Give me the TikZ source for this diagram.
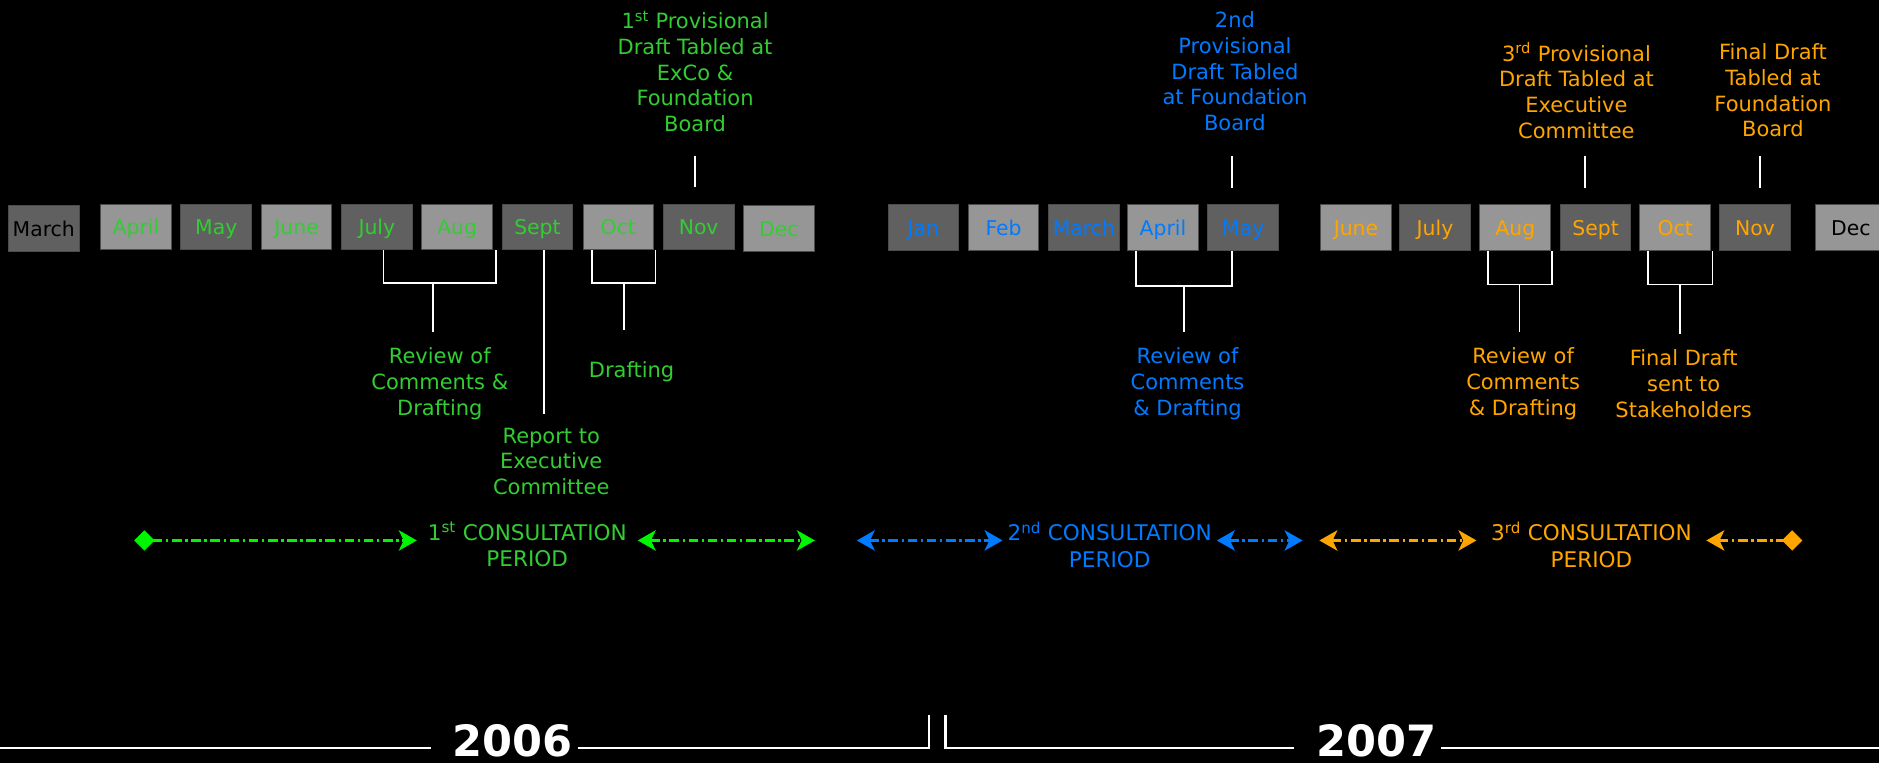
\documentclass[tikz,border=0pt]{standalone}
\usepackage{fontspec}
\setmainfont{DejaVu Sans}
\usetikzlibrary{calc,arrows.meta}
\definecolor{grn}{RGB}{50,205,50}
\definecolor{lim}{RGB}{0,245,0}
\definecolor{blu}{RGB}{0,122,255}
\definecolor{org}{RGB}{255,165,0}
\definecolor{lgray}{RGB}{150,150,150}
\definecolor{dgray}{RGB}{96,96,96}
\begin{document}
\begin{tikzpicture}[x=1pt,y=-1pt,
  mbox/.style={draw=black!70,line width=0.8pt,minimum width=59pt,minimum height=38pt,inner sep=0pt,text height=14.5pt,text depth=1.5pt,font=\fontsize{17}{20}\selectfont},
  lt/.style={mbox,fill=lgray},
  dk/.style={mbox,fill=dgray},
  lab/.style={align=center,inner sep=2pt,font=\fontsize{17.5}{21.5}\selectfont},
  wline/.style={white,line width=1.5pt},
  con/.style={#1,line width=2pt,dash pattern=on 8pt off 3pt on 2pt off 3pt},
  hd/.tip={Stealth[length=15pt,width=17pt,inset=4pt]},
  dm/.tip={Diamond[length=17pt,width=17pt]},
  year/.style={white,inner ysep=0pt,inner xsep=4pt,font=\fontsize{36}{40}\selectfont\bfseries}]
\useasboundingbox (0,0) rectangle (1568,636.7);
\fill[black] (0,0) rectangle (1568,636.7);
\node[dk,text=black](mar06)at(36.5,190.5){March};
\node[lt,text=grn](apr06)at(113.5,189.5){April};
\node[dk,text=grn](may06)at(180.5,189.5){May};
\node[lt,text=grn](jun06)at(247.5,189.5){June};
\node[dk,text=grn](jul06)at(314.5,189.5){July};
\node[lt,text=grn](aug06)at(381.5,189.5){Aug};
\node[dk,text=grn](sep06)at(448.5,189.5){Sept};
\node[lt,text=grn](oct06)at(516,189.5){Oct};
\node[dk,text=grn](nov06)at(583,189.5){Nov};
\node[lt,text=grn](dec06)at(650,190.5){Dec};
\node[dk,text=blu](jan07)at(770.5,190){Jan};
\node[lt,text=blu](feb07)at(837.5,190){Feb};
\node[dk,text=blu](mar07)at(904.5,190){March};
\node[lt,text=blu](apr07)at(970.5,190){April};
\node[dk,text=blu](may07)at(1037.5,190){May};
\node[lt,text=org](jun07)at(1131.5,190){June};
\node[dk,text=org](jul07)at(1197.5,190){July};
\node[lt,text=org](aug07)at(1264.5,190){Aug};
\node[dk,text=org](sep07)at(1331.5,190){Sept};
\node[lt,text=org](oct07)at(1398,190){Oct};
\node[dk,text=org](nov07)at(1464.5,190){Nov};
\node[lt,text=black](dec07)at(1544.5,190){Dec};
\node[lab,text=grn](top1)at(580,59.5){1\textsuperscript{st} Provisional\\Draft Tabled at\\ExCo \&\\Foundation\\Board};
\node[lab,text=blu](top2)at(1030.5,59.5){2nd\\Provisional\\Draft Tabled\\at Foundation\\Board};
\node[lab,text=org](top3)at(1315.5,75.5){3\textsuperscript{rd} Provisional\\Draft Tabled at\\Executive\\Committee};
\node[lab,text=org](top4)at(1479.5,75.5){Final Draft\\Tabled at\\Foundation\\Board};
\coordinate(t1)at(580,130);
\coordinate(t2)at(1028,130);
\coordinate(t3)at(1322.5,130);
\coordinate(t4)at(1469,130);
\draw[wline,shorten >=14pt](t1)--(t1 |- nov06.north);
\draw[wline,shorten >=14pt](t2)--(t2 |- may07.north);
\draw[wline,shorten >=14pt](t3)--(t3 |- sep07.north);
\draw[wline,shorten >=14pt](t4)--(t4 |- nov07.north);
\node[lab,text=grn](rev1)at(367,320){Review of\\Comments \&\\Drafting};
\node[lab,text=grn](dra1)at(527,310){Drafting};
\node[lab,text=grn](rep1)at(460,385){Report to\\Executive\\Committee};
\node[lab,text=blu](rev2)at(991,320){Review of\\Comments\\\& Drafting};
\node[lab,text=org](rev3)at(1271,320){Review of\\Comments\\\& Drafting};
\node[lab,text=org](fin1)at(1405,320){Final Draft\\sent to\\Stakeholders};
\draw[wline]($(jul06.south)+(5.5,0)$)--++(0,27)-|($(aug06.south east)+(2.5,0)$);
\draw[wline]($(oct06.south)+(-22,0)$)--++(0,27)-|($(oct06.south)+(31,0)$);
\draw[wline]($(apr07.south)+(-22.5,0)$)--++(0,29)-|($(may07.south)+(-9.5,0)$);
\draw[wline]($(aug07.south)+(-22.5,0)$)--++(0,28)-|($(aug07.south)+(30.5,0)$);
\draw[wline]($(oct07.south)+(-23,0)$)--++(0,28)-|($(oct07.south)+(31,0)$);
\coordinate(k1)at($(jul06.south)+(46.5,27)$);
\coordinate(k2)at($(oct06.south)+(5,27)$);
\coordinate(k3)at($(apr07.south)+(17.5,29)$);
\coordinate(k4)at($(aug07.south)+(3.5,28)$);
\coordinate(k5)at($(oct07.south)+(4,28)$);
\coordinate(k6)at($(sep06.south)+(5.5,0)$);
\draw[wline,shorten >=11pt](k1)--(k1 |- rev1.north);
\draw[wline,shorten >=24pt](k2)--(k2 |- dra1.north);
\draw[wline,shorten >=11pt](k3)--(k3 |- rev2.north);
\draw[wline,shorten >=11pt](k4)--(k4 |- rev3.north);
\draw[wline,shorten >=11pt](k5)--(k5 |- fin1.north);
\draw[wline,shorten >=9pt](k6)--(k6 |- rep1.north);
\node[lab,text=grn,inner xsep=9pt,font=\fontsize{18}{22}\selectfont](c1)at(440,454.5){1\textsuperscript{st} CONSULTATION\\PERIOD};
\node[lab,text=blu,inner xsep=4pt,font=\fontsize{18}{22}\selectfont](c2)at(926,454.5){2\textsuperscript{nd} CONSULTATION\\PERIOD};
\node[lab,text=org,inner xsep=12pt,font=\fontsize{18}{22}\selectfont](c3)at(1328,454.5){3\textsuperscript{rd} CONSULTATION\\PERIOD};
\coordinate(g0)at(112,451);
\coordinate(g1)at(680,451);
\coordinate(b0)at(715,451);
\coordinate(b1)at(1087,451);
\coordinate(o0)at(1101,451);
\coordinate(o1)at(1504,451);
\draw[con=lim,dm-hd](g0)--(c1.west |- g0);
\draw[con=lim,hd-hd](c1.east |- g0)--(g1);
\draw[con=blu,hd-hd](b0)--(c2.west |- b0);
\draw[con=blu,hd-hd](c2.east |- b0)--(b1);
\draw[con=org,hd-hd](o0)--(c3.west |- o0);
\draw[con=org,hd-dm](c3.east |- o0)--(o1);
\node[year](y06)at(428,618.5){2006};
\node[year](y07)at(1148.5,618.5){2007};
\coordinate(yl)at(0,624);
\coordinate(ym)at(775,597);
\coordinate(yn)at(789,597);
\coordinate(yr)at(1568,624);
\draw[wline,line width=2pt](yl)--([xshift=-14pt]y06.west |- yl);
\draw[wline,line width=2pt](y06.east |- yl)-|(ym);
\draw[wline,line width=2pt](yn)|-([xshift=-14pt]y07.west |- yl);
\draw[wline,line width=2pt](y07.east |- yl)--(yr);
\end{tikzpicture}
\end{document}
